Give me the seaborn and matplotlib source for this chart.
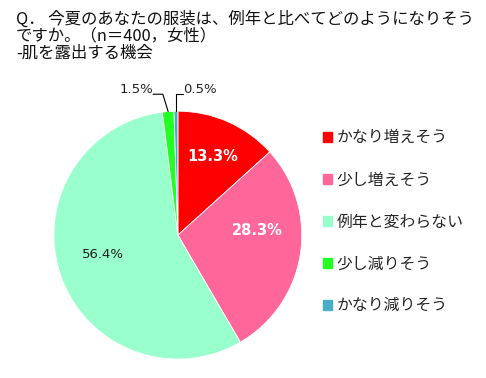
import matplotlib
matplotlib.use("Agg")
import matplotlib.pyplot as plt
import seaborn as sns
import numpy as np

categories = ["かなり増えそう", "少し増えそう", "例年と変わらない", "少し減りそう", "かなり減りそう"]
shares = [13.3, 28.3, 56.4, 1.5, 0.5]
colors = ["#FF0000", "#FF6699", "#99FFCC", "#22FF22", "#4BACC6"]
title_lines = ["Q． 今夏のあなたの服装は、例年と比べてどのようになりそう",
               "ですか。（n＝400，女性）",
               "-肌を露出する機会"]

sns.set_theme(style="white")
plt.rcParams["font.family"] = ["Noto Sans CJK JP", "DejaVu Sans"]

fig = plt.figure(figsize=(4.86, 3.78), dpi=100)
fig.patch.set_facecolor("white")
for k, line in enumerate(title_lines):
    fig.text(0.033, 1 - (19 + 17 * k) / 378, line, ha="left", va="center",
             fontsize=11.8, color="#111111")

ax = fig.add_axes([0.111, 0.050, 0.510, 0.656])
wedges, texts = ax.pie(shares, colors=colors, startangle=90, counterclock=False,
                       wedgeprops=dict(linewidth=0.6, edgecolor="white"))
ax.set_xlim(-1, 1)
ax.set_ylim(-1, 1)
ax.set_aspect("equal")

# labels for the larger slices (radius, angle shift from slice middle)
label_pos = [(0.69, 0.0), (0.646, 12.3), (0.624, -4.5)]
label_style = [dict(color="white", fontweight="bold", fontsize=10.5),
               dict(color="white", fontweight="bold", fontsize=10.5),
               dict(color="#222222", fontsize=9.5)]
for i in range(3):
    w = wedges[i]
    r, shift = label_pos[i]
    ang = np.deg2rad((w.theta1 + w.theta2) / 2 + shift)
    ax.text(r * np.cos(ang), r * np.sin(ang), f"{shares[i]}%",
            ha="center", va="center", family=["DejaVu Sans"], **label_style[i])

# small slices with leader lines
ty = 1.137
for i, elbow_dx, end_dx in [(3, -0.043, -0.122), (4, 0.0, 0.055)]:
    w = wedges[i]
    ang = np.deg2rad((w.theta1 + w.theta2) / 2)
    x0, y0 = np.cos(ang), np.sin(ang)
    ax.plot([x0, x0 + elbow_dx, x0 + end_dx], [y0, ty, ty], color="black", lw=0.8,
            clip_on=False)
    ha = "right" if end_dx < 0 else "left"
    ax.text(x0 + end_dx, ty + 0.04, f"{shares[i]}%",
            ha=ha, va="center", fontsize=9.5, color="#222222", family=["DejaVu Sans"])

handles = [plt.Rectangle((0, 0), 1, 1, color=c) for c in colors]
fig.legend(handles, categories, loc="center left", bbox_to_anchor=(0.665, 0.413),
           frameon=False, fontsize=11.4, handlelength=0.55, handleheight=0.55,
           handletextpad=0.3, labelspacing=1.58, borderpad=0, borderaxespad=0)

plt.savefig("out.png", dpi=100)
